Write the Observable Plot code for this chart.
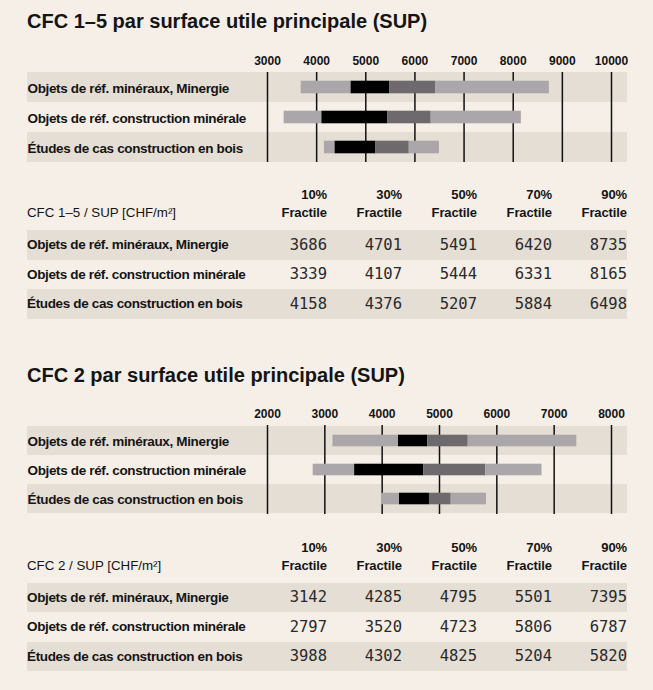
<!DOCTYPE html>
<html>
<head>
<meta charset="utf-8">
<script src="https://cdn.jsdelivr.net/npm/d3@7"></script>
<script src="https://cdn.jsdelivr.net/npm/@observablehq/plot@0.6"></script>
<style>
  html, body { margin: 0; padding: 0; background: #f5efe8; }
  #wrap { position: relative; width: 653px; height: 690px; background: #f5efe8; overflow: hidden;
          font-family: "Liberation Sans", Arial, sans-serif; color: #141414; }
  .title { position: absolute; left: 27px; font-size: 20px; line-height: 20px; font-weight: bold; white-space: nowrap; }
  .chart { position: absolute; left: 0; }
  .chart g[aria-label="text"] text { letter-spacing: -0.35px; }
  table { position: absolute; left: 27px; width: 600px; border-collapse: collapse; table-layout: fixed; }
  th, td { padding: 0; white-space: nowrap; }
  th { height: 44px; vertical-align: bottom; padding-bottom: 8px; box-sizing: border-box;
       font-size: 13px; line-height: 18px; font-weight: bold; text-align: right; letter-spacing: -0.1px; }
  th.first { text-align: left; font-weight: normal; font-size: 13.3px; letter-spacing: 0; }
  td { vertical-align: middle; }
  td.lab { font-size: 13.5px; font-weight: bold; text-align: left; letter-spacing: -0.35px; }
  td.num { font-family: "DejaVu Sans Mono", monospace; font-size: 15.5px; color: #2a2a2a; text-align: right; }
  tr.band td { background: #e5ded5; }
</style>
</head>
<body>
<div id="wrap"></div>
<script>
// ---- data ----
const categories = [
  "Objets de réf. minéraux, Minergie",
  "Objets de réf. construction minérale",
  "Études de cas construction en bois"
];
const fractileLabels = ["10%", "30%", "50%", "70%", "90%"];
const cfc15Title = "CFC 1–5 par surface utile principale (SUP)";
const cfc15Head = "CFC 1–5 / SUP [CHF/m²]";
const cfc15Values = [
  [3686, 4701, 5491, 6420, 8735],
  [3339, 4107, 5444, 6331, 8165],
  [4158, 4376, 5207, 5884, 6498]
];
const cfc15Ticks = [3000, 4000, 5000, 6000, 7000, 8000, 9000, 10000];

const cfc2Title = "CFC 2 par surface utile principale (SUP)";
const cfc2Head = "CFC 2 / SUP [CHF/m²]";
const cfc2Values = [
  [3142, 4285, 4795, 5501, 7395],
  [2797, 3520, 4723, 5806, 6787],
  [3988, 4302, 4825, 5204, 5820]
];
const cfc2Ticks = [2000, 3000, 4000, 5000, 6000, 7000, 8000];

const segmentColors = ["#aba6a9", "#000000", "#6e696c", "#aba6a9"];
const bandColor = "#e5ded5";

// ---- build ----
const wrap = document.getElementById("wrap");

function addTitle(text, top) {
  const d = document.createElement("div");
  d.className = "title";
  d.style.top = top + "px";
  d.textContent = text;
  wrap.appendChild(d);
}

function addChart(values, ticks, top, height) {
  const segments = [];
  categories.forEach((c, i) => {
    for (let j = 0; j < 4; j++) {
      segments.push({cat: c, x1: values[i][j], x2: values[i][j + 1], fill: segmentColors[j]});
    }
  });
  const svg = Plot.plot({
    width: 653,
    height: height,
    marginLeft: 27,
    marginRight: 26,
    marginTop: 32,
    marginBottom: 0,
    style: {background: "transparent", fontFamily: "Liberation Sans, Arial, sans-serif", color: "#141414"},
    x: {domain: [ticks[0], ticks[ticks.length - 1]], range: [267, 611]},
    y: {domain: categories, padding: 0, axis: null},
    color: {type: "identity"},
    marks: [
      Plot.cell(categories, {y: d => d, filter: (d, i) => i % 2 === 0, fill: bandColor}),
      Plot.ruleX(ticks, {stroke: "#111", strokeWidth: 1.5}),
      Plot.barX(segments, {x1: "x1", x2: "x2", y: "cat", fill: "fill", insetTop: 8.7, insetBottom: 8.7}),
      Plot.text(categories, {y: d => d, text: d => d, frameAnchor: "left", textAnchor: "start",
        fontSize: 13.5, fontWeight: "bold", fill: "#141414", dy: 1}),
      Plot.axisX(ticks, {anchor: "top", tickSize: 0, tickPadding: 8, tickFormat: d => String(d),
        fontSize: 12, fontWeight: "bold", fill: "#141414", label: null})
    ]
  });
  svg.classList.add("chart");
  svg.style.top = top + "px";
  wrap.appendChild(svg);
}

function addTable(values, head, top) {
  const t = document.createElement("table");
  t.style.top = top + "px";
  const cg = document.createElement("colgroup");
  [225, 75, 75, 75, 75, 75].forEach(w => {
    const c = document.createElement("col"); c.style.width = w + "px"; cg.appendChild(c);
  });
  t.appendChild(cg);
  const hr = document.createElement("tr");
  const th0 = document.createElement("th"); th0.className = "first"; th0.textContent = head; hr.appendChild(th0);
  fractileLabels.forEach(f => {
    const th = document.createElement("th");
    th.innerHTML = f + "<br>Fractile";
    hr.appendChild(th);
  });
  t.appendChild(hr);
  categories.forEach((c, i) => {
    const tr = document.createElement("tr");
    if (i % 2 === 0) tr.className = "band";
    tr.style.height = "29.5px";
    const td0 = document.createElement("td"); td0.className = "lab"; td0.textContent = c; tr.appendChild(td0);
    values[i].forEach(v => {
      const td = document.createElement("td"); td.className = "num"; td.textContent = String(v); tr.appendChild(td);
    });
    t.appendChild(tr);
  });
  wrap.appendChild(t);
}

addTitle(cfc15Title, 11);
addChart(cfc15Values, cfc15Ticks, 40, 122);
addTable(cfc15Values, cfc15Head, 186);

addTitle(cfc2Title, 365);
addChart(cfc2Values, cfc2Ticks, 393, 121);
addTable(cfc2Values, cfc2Head, 538.5);
</script>
</body>
</html>
